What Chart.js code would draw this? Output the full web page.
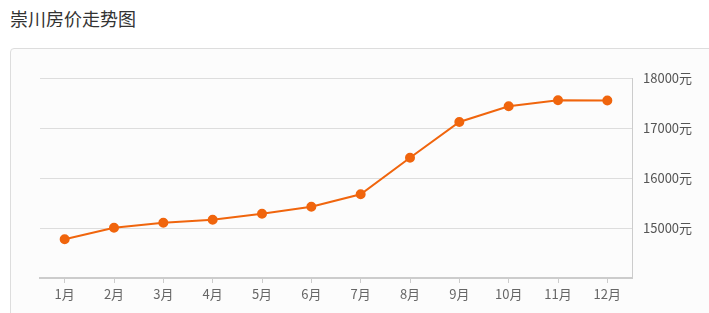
<!DOCTYPE html>
<html>
<head>
<meta charset="utf-8">
<script src="https://cdn.jsdelivr.net/npm/chart.js@4"></script>
<style>
  html, body { margin: 0; padding: 0; background: #fff; width: 709px; height: 313px; overflow: hidden; }
  .title { position: absolute; left: 10px; top: 5px; font: 18px "Noto Sans CJK SC", sans-serif; color: #333; }
  .panel { position: absolute; left: 10px; top: 48px; width: 720px; height: 300px; border: 1px solid #ddd; border-radius: 4px; background: #fcfcfc; }
  #wrap { position: absolute; left: 0; top: 0; width: 709px; height: 313px; }
</style>
</head>
<body>
<div class="title">崇川房价走势图</div>
<div class="panel"></div>
<div id="wrap"><canvas id="trend" width="709" height="313"></canvas></div>
<script>
var months = ['1月', '2月', '3月', '4月', '5月', '6月', '7月', '8月', '9月', '10月', '11月', '12月'];
var prices = [14775, 15005, 15105, 15165, 15285, 15425, 15675, 16405, 17120, 17435, 17555, 17550];
var yMin = 14000;
var yMax = 18000;
var yStep = 1000;

var ctx = document.getElementById('trend');
var orange = '#f0650d';

new Chart(ctx, {
    type: 'line',
    data: {
        labels: months,
        datasets: [{
            data: prices,
            borderColor: orange,
            backgroundColor: orange,
            borderWidth: 2,
            pointRadius: 4,
            pointHoverRadius: 4,
            tension: 0
        }]
    },
    options: {
        responsive: false,
        animation: false,
        layout: {
            padding: { left: 40, top: 78, right: 0, bottom: 0 }
        },
        plugins: {
            legend: { display: false },
            tooltip: { enabled: false }
        },
        scales: {
            x: {
                offset: true,
                grid: {
                    drawOnChartArea: false,
                    tickLength: 5,
                    color: '#ccc'
                },
                border: { color: '#ccc', width: 2 },
                ticks: {
                    color: '#666',
                    padding: 3,
                    autoSkip: false,
                    maxRotation: 0,
                    font: { family: '"Noto Sans CJK SC", sans-serif', size: 13 }
                },
                afterFit: function (scale) { scale.height = 35; }
            },
            y: {
                position: 'right',
                min: yMin,
                max: yMax,
                grid: {
                    color: function (c) { return c.tick.value === yMin ? 'rgba(0,0,0,0)' : '#ddd'; },
                    drawTicks: false
                },
                border: { color: '#ccc', width: 1 },
                ticks: {
                    stepSize: yStep,
                    color: '#555',
                    padding: 11,
                    font: { family: '"Noto Sans CJK SC", sans-serif', size: 13 },
                    callback: function (v) { return v === yMin ? '' : v + '元'; }
                },
                afterFit: function (scale) { scale.width = 77; }
            }
        }
    }
});
</script>
</body>
</html>
